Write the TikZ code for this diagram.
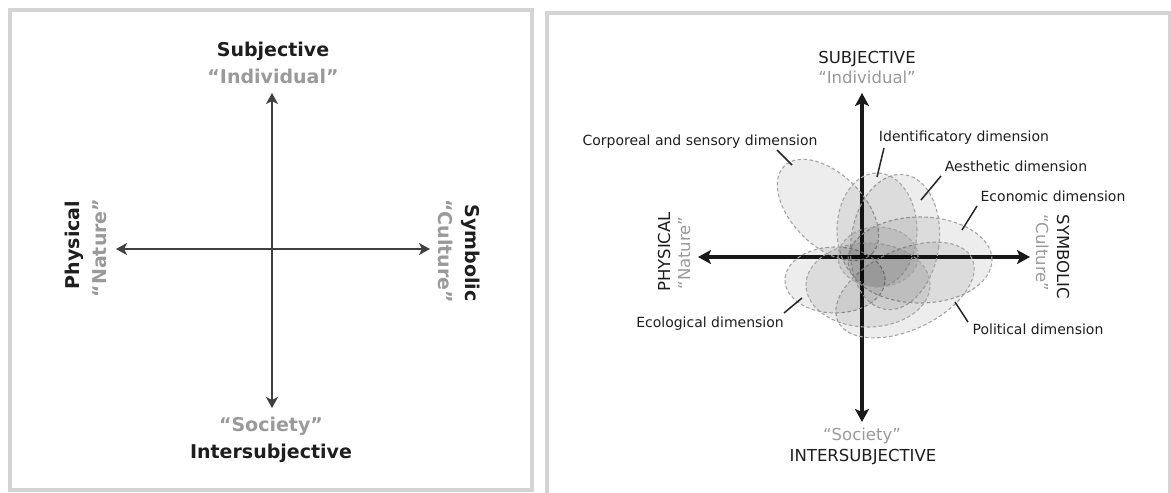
\documentclass[tikz,border=0pt]{standalone}
\usepackage{fontspec}
\setmainfont{DejaVu Sans}
\usetikzlibrary{arrows.meta}
\definecolor{boxgray}{HTML}{D4D4D4}
\definecolor{quotegray}{HTML}{9A9A9A}
\definecolor{axisgray}{HTML}{404040}
\definecolor{dashgray}{HTML}{A4A4A4}
\definecolor{txtdark}{HTML}{1E1E1E}
\tikzset{
  panel/.style={draw=boxgray, line width=4pt},
  axisL/.style={draw=axisgray, line width=2.8pt,
    {Stealth[length=11pt,width=12pt,inset=3pt]}-{Stealth[length=11pt,width=12pt,inset=3pt]}},
  axisR/.style={draw=black!90, line width=3.6pt,
    {Stealth[length=13pt,width=14pt,inset=3pt]}-{Stealth[length=13pt,width=14pt,inset=3pt]}},
  boldlab/.style={anchor=base, inner sep=0pt, text=txtdark, font=\bfseries\fontsize{19}{22}\selectfont},
  boldq/.style={anchor=base, inner sep=0pt, text=quotegray, font=\bfseries\fontsize{19}{22}\selectfont},
  caplab/.style={anchor=base, inner sep=0pt, text=txtdark, font=\fontsize{16.5}{20}\selectfont},
  capq/.style={anchor=base, inner sep=0pt, text=quotegray, font=\fontsize{16.5}{20}\selectfont},
  dimlab/.style={anchor=base, inner sep=0pt, text=txtdark, font=\fontsize{14}{17}\selectfont},
  blob/.style={fill=black, fill opacity=0.07, draw=dashgray, draw opacity=1,
    line width=1.1pt, dash pattern=on 3.5pt off 2.5pt},
  leader/.style={draw=black!85, line width=1.5pt},
}
\begin{document}
\begin{tikzpicture}[x=1pt, y=-1pt]
\useasboundingbox (0,0) rectangle (1171,493);
\clip (0,0) rectangle (1171,493);

% ---------------- left panel ----------------
\draw[panel] (10,10) rectangle (532,490);
\coordinate (LT) at (272,93);
\coordinate (LB) at (272,408);
\coordinate (LL) at (116,249);
\coordinate (LR) at (430,249);
\draw[axisL] (LB) -- (LT);
\draw[axisL] (LL) -- (LR);
\node[boldlab] (subj) at (273,56) {Subjective};
\node[boldq] (indiv) at (273,83) {“Individual”};
\node[boldq] (soc) at (271,431) {“Society”};
\node[boldlab] (inter) at (271,458) {Intersubjective};
\node[boldlab, rotate=90] (phys) at (79,245) {Physical};
\node[boldq, rotate=90] (nat) at (106,248) {“Nature”};
\node[boldlab, rotate=-90] (symb) at (465,253) {Symbolic};
\node[boldq, rotate=-90] (cult) at (438,251) {“Culture”};

% ---------------- right panel ----------------
\draw[panel] (547,13) rectangle (1170,520);
\coordinate (RT) at (862,93);
\coordinate (RB) at (862,422);
\coordinate (RL) at (698,257);
\coordinate (RR) at (1030,257);
\draw[axisR] (RB) -- (RT);
\draw[axisR] (RL) -- (RR);

% blobs
\path[blob] (835,280) ellipse [x radius=50pt, y radius=33pt];
\path[blob] (828,210) ellipse [x radius=62pt, y radius=36pt, rotate=-45];
\path[blob] (920,260) ellipse [x radius=72pt, y radius=43pt];
\path[blob] (905,290) ellipse [x radius=74pt, y radius=40pt, rotate=25];
\path[blob] (895,242) ellipse [x radius=44pt, y radius=68pt, rotate=-8];
\path[blob] (877,230) ellipse [x radius=40pt, y radius=57pt];
\path[blob] (868,285) ellipse [x radius=62pt, y radius=42pt];
\path[blob] (878,257) ellipse [x radius=40pt, y radius=30pt];

\node[caplab] (SUBJ) at (867,63) {SUBJECTIVE};
\node[capq] (INDIV) at (867,83) {“Individual”};
\node[capq] (SOC) at (862,440) {“Society”};
\node[caplab] (INTER) at (863,461) {INTERSUBJECTIVE};
\node[caplab, rotate=90] (PHYS) at (670,252) {PHYSICAL};
\node[capq, rotate=90] (NAT) at (690,253) {“Nature”};
\node[caplab, rotate=-90] (SYMB) at (1057,257) {SYMBOLIC};
\node[capq, rotate=-90] (CULT) at (1036,253) {“Culture”};

\node[dimlab] (corp) at (700,145) {Corporeal and sensory dimension};
\node[dimlab] (ident) at (964,141) {Identificatory dimension};
\node[dimlab] (aest) at (1016,171) {Aesthetic dimension};
\node[dimlab] (econ) at (1053,201) {Economic dimension};
\node[dimlab] (ecol) at (710,327) {Ecological dimension};
\node[dimlab] (polit) at (1038,334) {Political dimension};

\coordinate (c1) at (777,150); \coordinate (c2) at (792,165);
\coordinate (i1) at (884,148); \coordinate (i2) at (877,177);
\coordinate (a1) at (941,176); \coordinate (a2) at (921,200);
\coordinate (e1) at (977,206); \coordinate (e2) at (962,230);
\coordinate (p1) at (968,322); \coordinate (p2) at (955,302);
\coordinate (g1) at (784,313); \coordinate (g2) at (802,298);
\draw[leader] (c1) -- (c2);
\draw[leader] (i1) -- (i2);
\draw[leader] (a1) -- (a2);
\draw[leader] (e1) -- (e2);
\draw[leader] (p1) -- (p2);
\draw[leader] (g1) -- (g2);
\end{tikzpicture}
\end{document}
